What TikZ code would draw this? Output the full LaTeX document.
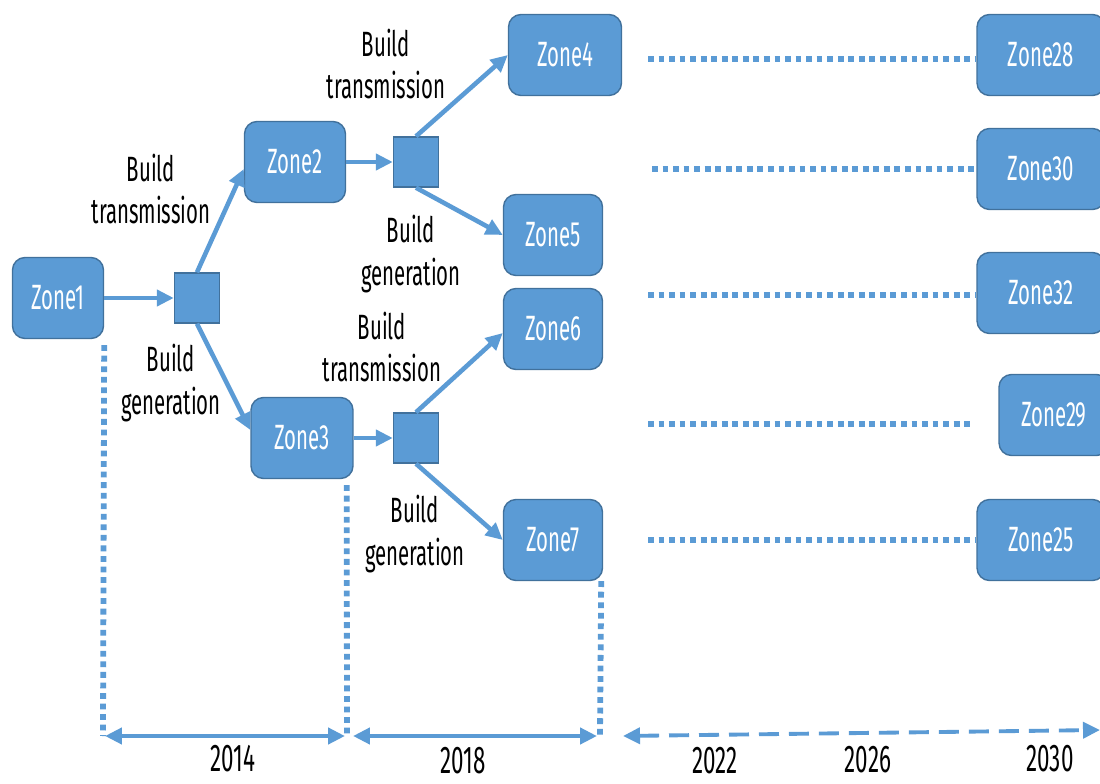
\documentclass[tikz,border=0pt]{standalone}
\usepackage{fontspec}
\setmainfont[FakeStretch=0.58]{Fira Sans}
\usetikzlibrary{arrows.meta, positioning}
\definecolor{zonefill}{HTML}{5B9BD5}
\definecolor{zoneedge}{HTML}{41719C}
\tikzstyle{every node}=[font=\fontsize{20}{24}\selectfont]
\tikzstyle{zone}=[draw=zoneedge,fill=zonefill,rectangle,rounded corners=0.25cm,line width=0.8pt,text=white,minimum height=1.62cm,minimum width=1.98cm]
\tikzstyle{junction}=[draw=zoneedge,fill=zonefill,rectangle,line width=0.8pt,minimum width=0.9cm,minimum height=1cm,inner sep=0pt]
\tikzstyle{link}=[->,draw=zonefill,line width=2.6pt]
\tikzstyle{span}=[<->,draw=zonefill,line width=2.6pt]
\tikzstyle{dotline}=[draw=zonefill,line width=3.3pt,dash pattern=on 3.3pt off 2.7pt]
\tikzstyle{label}=[align=center,text=black]
\tikzstyle{year}=[text=black,font=\fontsize{22}{24}\selectfont,inner sep=0pt]

\begin{document}
\begin{tikzpicture}[x=0.02cm,y=-0.02cm,>={Triangle[length=0.34cm,width=0.32cm]}]
  \clip (0,0) rectangle (1100,784);
  \fill[white] (0,0) rectangle (1100,784);
  % first stage
  \node[zone, minimum width=1.82cm] (zone1) at (58,298) {Zone1};
  \node[junction, right of=zone1, node distance=2.78cm] (sq1) {};
  \node[zone, minimum width=2.02cm] (zone2) at (295,162) {Zone2};
  \node[zone, minimum width=2.04cm] (zone3) at (302,438) {Zone3};
  \node[junction, right of=zone2, node distance=2.42cm] (sq2) {};
  \node[junction, right of=zone3, node distance=2.28cm] (sq3) {};
  % second stage
  \node[zone, minimum width=2.26cm] (zone4) at (565,55) {Zone4};
  \node[zone] (zone5) at (553,235) {Zone5};
  \node[zone] (zone6) at (553,329) {Zone6};
  \node[zone] (zone7) at (553,540) {Zone7};
  % last stage
  \node[zone, minimum width=2.56cm] (zone28) at (1041,55) {Zone28};
  \node[zone, minimum width=2.56cm] (zone30) at (1041,169) {Zone30};
  \node[zone, minimum width=2.56cm] (zone32) at (1041,293) {Zone32};
  \node[zone, minimum width=2.2cm] (zone29) at (1054,415) {Zone29};
  \node[zone, minimum width=2.56cm] (zone25) at (1041,540) {Zone25};

  \node[label] (bt1) at (151,189) {Build\\transmission};
  \node[label] (bg1) at (171,383) {Build\\generation};
  \node[label] (bt2) at (386,64) {Build\\transmission};
  \node[label] (bg2) at (411,254) {Build\\generation};
  \node[label] (bt3) at (382,347) {Build\\transmission};
  \node[label] (bg3) at (415,534) {Build\\generation};

  \draw[link] (zone1) -- (sq1);
  \draw[link] (sq1.north) -- ([yshift=-0.14cm]zone2.west);
  \draw[link] (sq1.south) -- ([yshift=0.16cm]zone3.west);
  \draw[link] (zone2) -- (sq2);
  \draw[link] (zone3) -- (sq3);
  \draw[link] (sq2.north) -- (zone4.west);
  \draw[link] (sq2.south) -- (zone5.west);
  \draw[link] (sq3.north) -- ([yshift=-0.08cm]zone6.west);
  \draw[link] (sq3.south) -- (zone7.west);

  % dotted rows
  \coordinate (r28) at (648,59);
  \coordinate (r30) at (652,169);
  \coordinate (r32) at (648,295);
  \coordinate (r29) at (648,424);
  \coordinate (r25) at (648,540);
  \draw[dotline] (r28) -- (r28 -| zone28.west);
  \draw[dotline] (r30) -- (r30 -| zone30.west);
  \draw[dotline] (r32) -- (r32 -| zone32.west);
  \draw[dotline] (r29) -- ([xshift=-0.54cm]r29 -| zone29.west);
  \draw[dotline] (r25) -- (r25 -| zone25.west);

  % time line
  \coordinate (t0) at (103,736);
  \coordinate (t1) at (347,736);
  \coordinate (t2) at (600,736);
  \coordinate (t3) at (1100,730);
  \draw[dotline] ([yshift=-0.12cm]zone1.south east) -- (t0);
  \draw[dotline] ([xshift=-0.14cm,yshift=-0.12cm]zone3.south east) -- (t1);
  \draw[dotline] ([xshift=-0.04cm]zone7.south east) -- (t2);
  \draw[span] ([xshift=0.04cm]t0) -- ([xshift=-0.04cm]t1);
  \draw[span] ([xshift=0.12cm]t1) -- ([xshift=-0.06cm]t2);
  \draw[span, line width=2.2pt, dash pattern=on 0.4cm off 0.2cm] ([xshift=0.46cm]t2) -- (t3);

  \node[year] (y14) at (233,759) {2014};
  \node[year] (y18) at (463,761) {2018};
  \node[year] (y22) at (715,761) {2022};
  \node[year] (y26) at (868,760) {2026};
  \node[year] (y30) at (1050,759) {2030};
\end{tikzpicture}
\end{document}
